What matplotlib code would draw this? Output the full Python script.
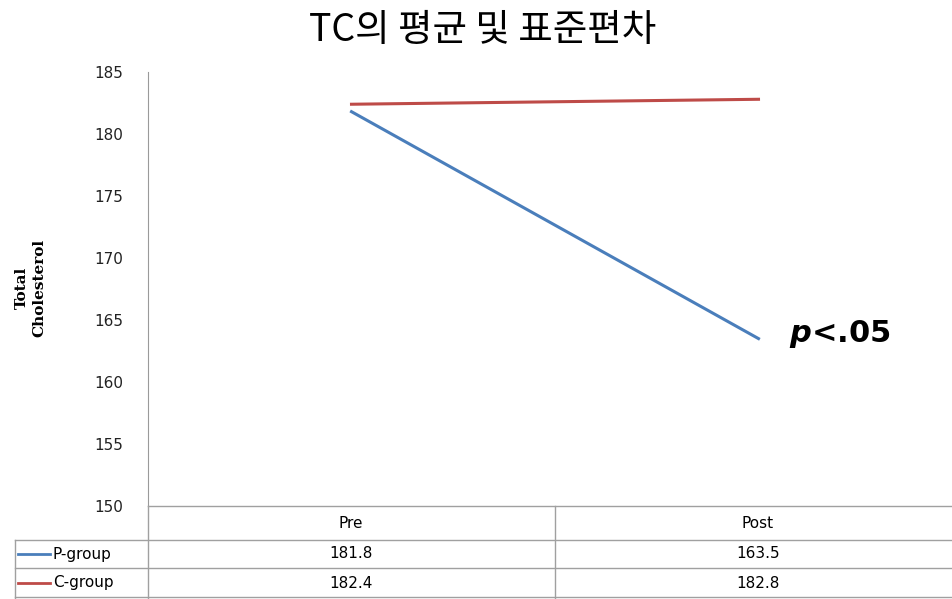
import matplotlib.pyplot as plt

plt.rcParams['font.family'] = ['DejaVu Sans']
plt.rcParams['mathtext.fontset'] = 'custom'
plt.rcParams['mathtext.it'] = 'DejaVu Sans:italic:bold'

categories = ['Pre', 'Post']
groups = ['P-group', 'C-group']
p_group = [181.8, 163.5]
c_group = [182.4, 182.8]
colors = ['#4a7ebb', '#be4b48']
yticks = [150, 155, 160, 165, 170, 175, 180, 185]

W, H = 952, 599
fig = plt.figure(figsize=(W / 100, H / 100), dpi=100)

def fx(px):
    return px / W

def fy(py):
    return 1 - py / H

# plot area: x from 148 to ~962 px, y from 72 to 506 px
ax = fig.add_axes([fx(148), fy(506), fx(962 - 148), fy(72) - fy(506)])
x = range(len(categories))
ax.plot(x, p_group, color=colors[0], lw=2.2)
ax.plot(x, c_group, color=colors[1], lw=2.2)
ax.set_xlim(-0.5, len(categories) - 0.5)
ax.set_ylim(150, 185)
ax.set_yticks(yticks)
ax.set_yticklabels([str(t) for t in yticks], fontsize=11, color='#222222')
ax.tick_params(axis='y', length=0, pad=18)
ax.set_xticks([])
for s in ['top', 'right', 'bottom']:
    ax.spines[s].set_visible(False)
ax.spines['left'].set_color('#9a9a9a')
ax.patch.set_alpha(0)

ax.text(1.075, 163.9, '$p$<.05', fontsize=22, fontweight='bold', va='center', ha='left')

fig.text(fx(483), fy(30), 'TC의 평균 및 표준편차', fontsize=27,
         family=['Noto Sans CJK KR', 'DejaVu Sans'], ha='center', va='center')

fig.text(fx(31), fy(288), 'Total\nCholesterol', rotation=90, fontsize=11,
         fontweight='bold', family='DejaVu Serif', ha='center', va='center',
         linespacing=1.3)

# data table under the plot
gray = '#a0a0a0'
def hline(y, x0, x1):
    fig.add_artist(plt.Line2D([fx(x0), fx(x1)], [fy(y), fy(y)], color=gray, lw=1))

def vline(xp, y0, y1):
    fig.add_artist(plt.Line2D([fx(xp), fx(xp)], [fy(y0), fy(y1)], color=gray, lw=1))

hline(506, 148, 952)
hline(540, 15, 952)
hline(568, 15, 952)
hline(597, 15, 952)
vline(148, 506, 599)
vline(555, 506, 599)
vline(15, 540, 599)

col_centers = [351, 758]
for cx, cat in zip(col_centers, categories):
    fig.text(fx(cx), fy(523), cat, fontsize=11, ha='center', va='center')

rows_y = [554, 583]
for ry, name, vals, c in zip(rows_y, groups, [p_group, c_group], colors):
    fig.add_artist(plt.Line2D([fx(18), fx(50)], [fy(ry), fy(ry)], color=c, lw=2))
    fig.text(fx(53), fy(ry), name, fontsize=11, ha='left', va='center')
    for cx, v in zip(col_centers, vals):
        fig.text(fx(cx), fy(ry), f'{v:.1f}', fontsize=11, ha='center', va='center')

fig.savefig('out.png', dpi=100)
